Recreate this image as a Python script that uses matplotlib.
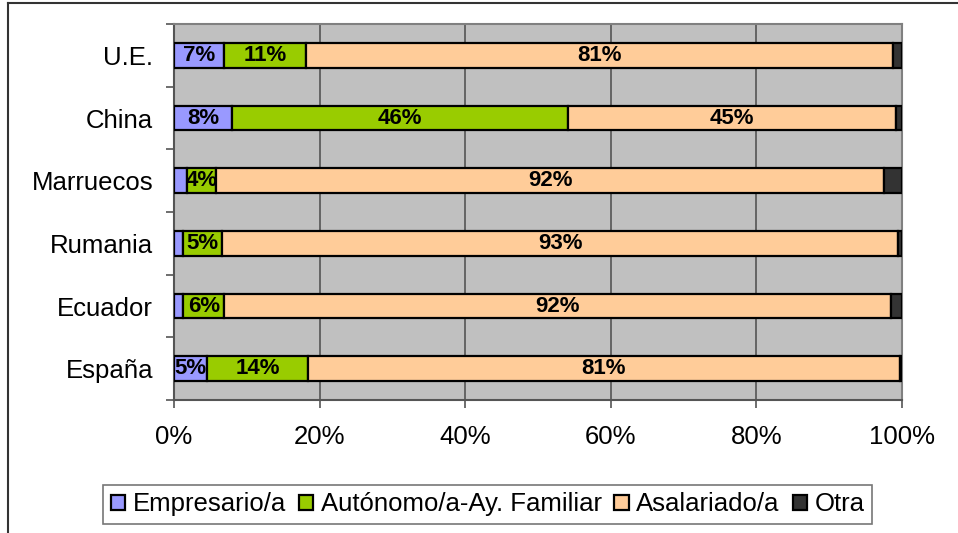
import numpy as np
import matplotlib
matplotlib.use("Agg")
import matplotlib.pyplot as plt
from matplotlib.lines import Line2D

plt.rcParams['font.family'] = ['Liberation Sans', 'DejaVu Sans']

# data (percent), bottom to top
paises = ['España', 'Ecuador', 'Rumania', 'Marruecos', 'China', 'U.E.']
empresario = [4.6, 1.3, 1.3, 1.8, 8.0, 6.9]
autonomo = [13.8, 5.6, 5.3, 4.0, 46.1, 11.2]
asalariado = [81.3, 91.6, 92.9, 91.7, 45.1, 80.6]
otra = [0.3, 1.5, 0.5, 2.5, 0.8, 1.3]

series = ['Empresario/a', 'Autónomo/a-Ay. Familiar', 'Asalariado/a', 'Otra']
colores = ['#9999FF', '#99CC00', '#FFCC99', '#333333']

fig = plt.figure(figsize=(9.58, 5.33), dpi=100)
ax = fig.add_axes([174/958, 1-400/533, 728/958, 376/533])
ax.set_facecolor('#C0C0C0')

y = np.arange(len(paises))
left = np.zeros(len(paises))
for vals, col, name in zip([empresario, autonomo, asalariado, otra], colores, series):
    vals = np.array(vals)
    ax.barh(y, vals, left=left, height=0.39, color=col, edgecolor='black',
            linewidth=1.6, label=name, zorder=3)
    if name != 'Otra':
        for yi, l, v in zip(y, left, vals):
            if v >= 3:
                ax.text(l + v/2, yi, '%d%%' % round(v), ha='center', va='center',
                        fontsize=16, fontweight='bold', zorder=4)
    left += vals

ax.set_xlim(0, 100)
ax.set_ylim(-0.5, 5.5)
ax.set_xticks(np.arange(0, 101, 20))
ax.set_xticklabels(['%d%%' % v for v in range(0, 101, 20)], fontsize=18.5)
ax.set_yticks(y)
ax.set_yticklabels(paises, fontsize=18.5)
ax.set_yticks(np.arange(-0.5, 6, 1), minor=True)
ax.tick_params(axis='y', which='major', length=0, pad=15)
ax.tick_params(axis='y', which='minor', length=6, width=1.2, color='#555555')
ax.tick_params(axis='x', length=6, width=1.2, color='#555555', pad=12)
ax.grid(axis='x', color='#555555', linewidth=1.2, zorder=1)
for s in ['top', 'right']:
    ax.spines[s].set_color('#808080')
    ax.spines[s].set_linewidth(1.5)
for s in ['left', 'bottom']:
    ax.spines[s].set_color('#555555')
    ax.spines[s].set_linewidth(1.5)

# outer chart frame
fig.add_artist(Line2D([8/958, 8/958], [0, 1-3/533], color='#333333', linewidth=1.5))
fig.add_artist(Line2D([8/958, 1], [1-3/533, 1-3/533], color='#333333', linewidth=1.5))

handles, labels = ax.get_legend_handles_labels()
leg = fig.legend(handles, labels, loc='center', bbox_to_anchor=(0.509, 0.0535),
                 ncol=4, fontsize=18.5, frameon=True, fancybox=False,
                 handlelength=0.55, handleheight=0.55, handletextpad=0.3,
                 columnspacing=0.5, borderpad=0.3, borderaxespad=0)
leg.get_frame().set_edgecolor('#555555')
leg.get_frame().set_linewidth(1.2)

fig.savefig('out.png', dpi=100)
